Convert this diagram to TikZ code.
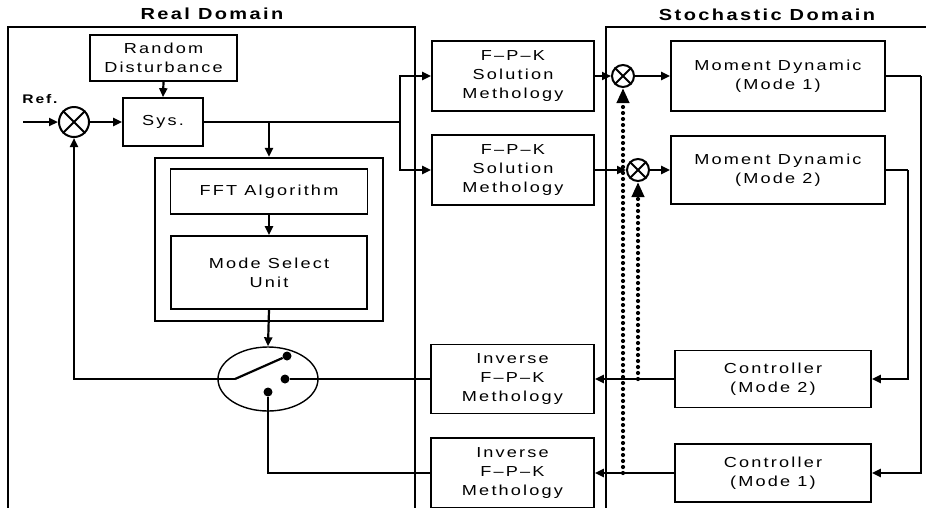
\documentclass[tikz,border=0pt]{standalone}
\usepackage{fontspec}
\setmainfont{Liberation Sans}[FakeStretch=1.25,LetterSpace=15]
\usetikzlibrary{arrows.meta,shapes.geometric}
\begin{document}
\begin{tikzpicture}[x=1pt,y=-1pt,
  box/.style={draw, line width=1.7pt, align=center, inner sep=0pt, font=\fontsize{14.5}{19}\selectfont},
  frame/.style={line width=1.4pt},
  conn/.style={line width=2.2pt},
  arr/.style={conn, -{Triangle[length=9pt,width=8pt]}},
  sumj/.style={circle, draw, line width=2pt, minimum size=22pt, inner sep=0pt},
  dotn/.style={circle, fill, inner sep=0pt, minimum size=9pt},
  dotline/.style={line width=4.2pt, line cap=round, dash pattern=on 0pt off 6pt, -{Triangle[length=15pt,width=12pt]}},
  titl/.style={font=\fontsize{16}{18}\selectfont\bfseries},
  lbl/.style={font=\fontsize{12.5}{15}\selectfont\bfseries}]
\useasboundingbox (0,0) rectangle (926,507);
\fill[white] (0,0) rectangle (926,507);
% domain frames
\draw[frame] (8,512) -- (8,27) -- (415,27) -- (415,512);
\draw[frame] (606,512) -- (606,27) -- (930,27);
\node[titl] (rt) at (212,14) {Real Domain};
\node[titl] (st) at (767,15) {Stochastic Domain};
% real domain
\node[box, minimum width=147pt, minimum height=46pt] (rd) at (163.5,58) {Random\\Disturbance};
\node[box, minimum width=80pt, minimum height=48pt] (sys) at (163,122) {Sys.};
\node[sumj, minimum size=30pt] (s0) at (74,122) {};
\draw[line width=2pt] (s0.north east) -- (s0.south west) (s0.north west) -- (s0.south east);
\node[lbl] (ref) at (40,99) {Ref.};
\coordinate (refin) at (23,122);
\node[draw, line width=2.3pt, minimum width=228pt, minimum height=163pt, inner sep=0pt] (fftf) at (269,239.5) {};
\node[box, minimum width=197pt, minimum height=45pt] (fft) at (269,191.5) {FFT Algorithm};
\node[box, minimum width=196pt, minimum height=73pt] (msu) at (269,272.5) {Mode Select\\Unit};
\node[ellipse, draw, line width=1.4pt, minimum width=100pt, minimum height=64pt, inner sep=0pt] (sw) at (268,379) {};
\node[dotn] (swa) at (287,356) {};
\node[dotn] (swb) at (285,379) {};
\node[dotn] (swc) at (268,392) {};
\coordinate (piv) at (235,379);
% middle
\node[box, minimum width=162pt, minimum height=70pt] (fpk1) at (513,76) {F–P–K\\Solution\\Methology};
\node[box, minimum width=162pt, minimum height=70pt] (fpk2) at (513,170) {F–P–K\\Solution\\Methology};
\node[box, minimum width=163pt, minimum height=69pt] (inv1) at (512.5,379) {Inverse\\F–P–K\\Methology};
\node[box, minimum width=163pt, minimum height=70pt] (inv2) at (512.5,473) {Inverse\\F–P–K\\Methology};
% stochastic
\node[sumj] (c1) at (623,76) {};
\draw[line width=1.8pt] (c1.north east) -- (c1.south west) (c1.north west) -- (c1.south east);
\node[sumj] (c2) at (638,170) {};
\draw[line width=1.8pt] (c2.north east) -- (c2.south west) (c2.north west) -- (c2.south east);
\node[box, minimum width=214pt, minimum height=70pt] (md1) at (778,76) {Moment Dynamic\\(Mode 1)};
\node[box, minimum width=214pt, minimum height=68pt] (md2) at (778,170) {Moment Dynamic\\(Mode 2)};
\node[box, minimum width=196pt, minimum height=57pt] (ctl2) at (773,379) {Controller\\(Mode 2)};
\node[box, minimum width=196pt, minimum height=58pt] (ctl1) at (773,473) {Controller\\(Mode 1)};
\coordinate (r1) at (921,76);
\coordinate (r2) at (908,170);
\coordinate (split) at (400,122);
\coordinate (d1) at (623,473);
\coordinate (d2) at (638,379);
% connectors
\draw[arr] (refin) -- (s0.west);
\draw[arr] (s0.east) -- (sys.west);
\draw[arr] (rd.south) -- (sys.north);
\draw[conn] (sys.east) -- (split);
\draw[arr] (split) |- (fpk1.west);
\draw[arr] (split) |- (fpk2.west);
\draw[arr] (fftf.north |- sys.east) -- (fftf.north);
\draw[arr] (fft.south) -- (msu.north);
\draw[arr] (msu.south) -- (sw.north);
\draw[conn] (piv) -- (swa);
\draw[arr] (piv) -| (s0.south);
\draw[conn] (swb) -- (inv1.west);
\draw[conn] (swc) |- (inv2.west);
\draw[arr] (fpk1.east) -- (c1.west);
\draw[arr] (c1.east) -- (md1.west);
\draw[arr] (fpk2.east) -- (c2.west);
\draw[arr] (c2.east) -- (md2.west);
\draw[conn] (md1.east) -- (r1);
\draw[arr] (r1) |- (ctl1.east);
\draw[conn] (md2.east) -- (r2);
\draw[arr] (r2) |- (ctl2.east);
\draw[arr] (ctl2.west) -- (inv1.east);
\draw[arr] (ctl1.west) -- (inv2.east);
\draw[dotline] (d1) -- (c1.south);
\draw[dotline] (d2) -- (c2.south);
\end{tikzpicture}
\end{document}
